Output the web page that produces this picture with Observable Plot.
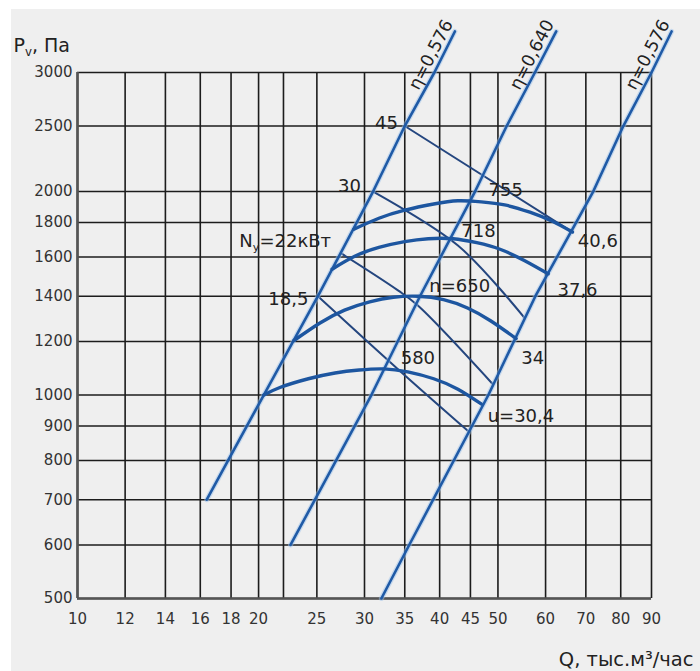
<!DOCTYPE html>
<html><head><meta charset="utf-8">
<script src="https://cdn.jsdelivr.net/npm/d3@7"></script>
<script src="https://cdn.jsdelivr.net/npm/@observablehq/plot@0.6"></script>
<style>
html,body{margin:0;padding:0;background:#ffffff;}
#wrap{position:relative;width:700px;height:671px;overflow:hidden;}
#bg{position:absolute;left:11px;top:9px;right:0;bottom:0;background:#efefef;}
#chart{position:absolute;left:0;top:0;width:700px;height:671px;}
</style></head><body>
<div id="wrap"><div id="bg"></div><div id="chart"></div></div>
<script>
// grid & ticks
const xGrid = [10,12,14,16,18,20,22,25,30,35,40,45,50,60,70,80,90];
const xTickLabels = [10,12,14,16,18,20,25,30,35,40,45,50,60,70,80,90];
const yGrid = [500,600,700,800,900,1000,1200,1400,1600,1800,2000,2500,3000];

// efficiency lines (Q thousand m3/h, P Pa)
const etaLeftQ  = [16.4, 20.4, 25.1, 31.0, 35.0, 39.2, 42.4];
const etaLeftP  = [700, 1000, 1400, 2000, 2500, 3000, 3450];
const etaMidQ   = [22.6, 30.8, 37.1, 45.8, 51.7, 57.6, 62.5];
const etaMidP   = [600, 1000, 1400, 2000, 2500, 3000, 3450];
const etaRightQ = [32.0, 35.6, 48.2, 57.7, 72.0, 80.8, 90.0, 97.2];
const etaRightP = [500, 600, 1000, 1400, 2000, 2500, 3000, 3450];

// fan curves for n = 755, 718, 650, 580 rpm
const n755Q = [28.8, 31.7, 35.0, 39.1, 42.9, 46.9, 51.3, 56.5, 61.7, 66.5];
const n755P = [1759, 1826, 1877, 1917, 1938, 1931, 1911, 1864, 1806, 1742];
const n718Q = [26.5, 28.9, 31.7, 35.0, 38.3, 42.1, 46.1, 50.4, 55.4, 60.6];
const n718P = [1535, 1604, 1653, 1686, 1703, 1703, 1680, 1643, 1580, 1511];
const n650Q = [22.9, 25.3, 27.8, 30.6, 33.5, 36.8, 40.6, 44.5, 48.6, 53.6];
const n650P = [1204, 1278, 1335, 1373, 1395, 1400, 1384, 1345, 1288, 1212];
const n580Q = [20.4, 21.7, 24.2, 26.8, 29.4, 32.3, 35.4, 39.1, 42.9, 46.9];
const n580P = [1000, 1026, 1057, 1078, 1089, 1093, 1082, 1057, 1020, 970];

// power lines N = 45, 30, 22, 18.5 kW
const N45Q = [35.0, 66.5];
const N45P = [2500, 1742];
const N30Q = [31.0, 42.9, 55.4];
const N30P = [2000, 1664, 1299];
const N22Q = [27.4, 34.1, 36.8, 48.9];
const N22P = [1621, 1428, 1356, 1040];
const N185Q = [25.1, 34.1, 44.5];
const N185P = [1400, 1092, 886];

// labels
const endLabelText = ["45", "30", "Ny=22кВт", "18,5"];
const endLabelQ = [34.1, 29.6, 26.4, 24.2];
const endLabelP = [2527, 2035, 1691, 1386];
const midLabelText = ["755", "718", "n=650", "580", "40,6", "37,6", "34", "u=30,4"];
const midLabelQ = [51.5, 46.4, 43.2, 36.8, 73.3, 67.8, 57.1, 54.6];
const midLabelP = [2007, 1748, 1450, 1135, 1686, 1431, 1135, 931];
const etaLabelText = ["η=0,576", "η=0,640", "η=0,576"];
const etaLabelQ = [37.5, 55.2, 86.0];
const etaLabelP = [2795, 2795, 2795];

const pts = (Q, P, name) => Q.map((q, i) => ({q, p: P[i], name}));
const etaData = [...pts(etaLeftQ, etaLeftP, "L"), ...pts(etaMidQ, etaMidP, "M"), ...pts(etaRightQ, etaRightP, "R")];
const arcData = [...pts(n755Q, n755P, "755"), ...pts(n718Q, n718P, "718"), ...pts(n650Q, n650P, "650"), ...pts(n580Q, n580P, "580")];
const powerData = [...pts(N45Q, N45P, "45"), ...pts(N30Q, N30P, "30"), ...pts(N22Q, N22P, "22"), ...pts(N185Q, N185P, "18.5")];
const endLabels = endLabelText.map((t, i) => ({t, q: endLabelQ[i], p: endLabelP[i]}));
const midLabels = midLabelText.map((t, i) => ({t, q: midLabelQ[i], p: midLabelP[i]}));
const etaLabels = etaLabelText.map((t, i) => ({t, q: etaLabelQ[i], p: etaLabelP[i]}));

const FONT = "DejaVu Sans, Verdana, sans-serif";
const chart = Plot.plot({
  width: 700, height: 671,
  marginLeft: 77, marginRight: 49, marginTop: 72, marginBottom: 73,
  style: {background: "transparent", fontFamily: FONT, overflow: "visible"},
  x: {type: "log", domain: [10, 90], axis: null},
  y: {type: "log", domain: [500, 3000]},
  marks: [
    Plot.ruleX(xGrid, {stroke: "#1c1c1c", strokeWidth: 1.6}),
    Plot.ruleY(yGrid, {stroke: "#1c1c1c", strokeWidth: 1.6}),
    Plot.ruleX([10], {stroke: "#555", strokeWidth: 2.6}),
    Plot.ruleY([500], {stroke: "#555", strokeWidth: 2.6}),
    Plot.text(xTickLabels, {x: d => d, text: d => String(d), frameAnchor: "bottom", lineAnchor: "top", dy: 15, fontSize: 15, fill: "#333"}),
    Plot.axisY(yGrid, {tickSize: 0, tickPadding: 5, label: null, tickFormat: d => String(d), fontSize: 15, fill: "#333"}),
    Plot.line(powerData, {x: "q", y: "p", z: "name", stroke: "#24467f", strokeWidth: 2, curve: "catmull-rom"}),
    Plot.line(etaData, {x: "q", y: "p", z: "name", stroke: "#9cc2ec", strokeWidth: 5, strokeOpacity: 0.5}),
    Plot.line(etaData, {x: "q", y: "p", z: "name", stroke: "#1f5aa6", strokeWidth: 2.6}),
    Plot.line(arcData, {x: "q", y: "p", z: "name", stroke: "#1d56a0", strokeWidth: 3.4, curve: "natural"}),
    Plot.text(endLabels, {x: "q", y: "p", text: "t", textAnchor: "end", fontSize: 18, fill: "#222"}),
    Plot.text(midLabels, {x: "q", y: "p", text: "t", textAnchor: "middle", fontSize: 18, fill: "#222"}),
    Plot.text(etaLabels, {x: "q", y: "p", text: "t", textAnchor: "start", lineAnchor: "bottom", rotate: -62.5, dx: -4.4, dy: -2.3, fontSize: 17.5, fill: "#222"}),
    Plot.text(["Pv, Па"], {frameAnchor: "top-left", dx: -64, dy: -21, textAnchor: "start", lineAnchor: "bottom", fontSize: 19, fill: "#222"}),
    Plot.text(["Q, тыс.м³/час"], {frameAnchor: "bottom-right", dx: 42, dy: 67, textAnchor: "end", lineAnchor: "bottom", fontSize: 19.5, fill: "#222"})
  ]
});
document.getElementById("chart").appendChild(chart);

function subscriptify(full, base, sub, rest) {
  d3.select(chart).selectAll("text").filter(function() { return this.textContent === full; }).each(function() {
    const t = d3.select(this);
    t.text(null);
    t.append("tspan").text(base);
    t.append("tspan").attr("font-size", "62%").attr("dy", "4").text(sub);
    t.append("tspan").attr("dy", "-4").text(rest);
  });
}
subscriptify("Pv, Па", "P", "v", ", Па");
subscriptify("Ny=22кВт", "N", "y", "=22кВт");
</script>
</body></html>
